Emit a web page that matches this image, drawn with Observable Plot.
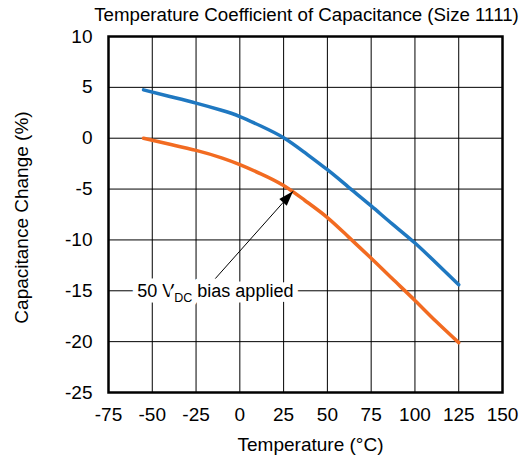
<!DOCTYPE html>
<html>
<head>
<meta charset="utf-8">
<script src="https://cdn.jsdelivr.net/npm/d3@7"></script>
<script src="https://cdn.jsdelivr.net/npm/@observablehq/plot@0.6"></script>
<style>
  html, body { margin: 0; padding: 0; background: white; }
</style>
</head>
<body>
<div id="chart"></div>
<script>
const title = "Temperature Coefficient of Capacitance (Size 1111)";
const xLabel = "Temperature (°C)";
const yLabel = "Capacitance Change (%)";
const xTicks = [-75, -50, -25, 0, 25, 50, 75, 100, 125, 150];
const yTicks = [-25, -20, -15, -10, -5, 0, 5, 10];

const temps   = [-55, -40, -25, -10, 0, 12, 25, 37, 50, 62, 75, 87, 100, 112, 125];
const noBias  = [4.75, 4.1, 3.45, 2.72, 2.13, 1.2, 0.05, -1.4, -3.1, -4.8, -6.65, -8.42, -10.3, -12.25, -14.4];
const bias50  = [0.0, -0.6, -1.2, -1.95, -2.6, -3.5, -4.65, -6.1, -7.8, -9.7, -11.8, -13.8, -15.95, -18.0, -20.1];

const annText = "50 VDC bias applied";
const annPos = {x: -14, y: -15};
const arrowFrom = {x: -14, y: -13.8};
const arrowTo = {x: 30.4, y: -5.22};

const rowsA = temps.map((t, i) => ({t, c: noBias[i]}));
const rowsB = temps.map((t, i) => ({t, c: bias50[i]}));

const arrowHead = {
  draw(ctx) {
    ctx.moveTo(0, 0);
    ctx.lineTo(-5, 15);
    ctx.lineTo(5, 15);
    ctx.closePath();
  }
};

const FS = 19;

const plot = Plot.plot({
  width: 523,
  height: 457,
  marginLeft: 108,
  marginRight: 21,
  marginTop: 36,
  marginBottom: 65,
  style: {fontFamily: "'Liberation Sans', Arial, sans-serif", fontSize: FS + "px", color: "black", background: "white", overflow: "visible"},
  x: {domain: [-75, 150]},
  y: {domain: [-25, 10]},
  marks: [
    Plot.gridX(xTicks, {stroke: "black", strokeOpacity: 1, strokeWidth: 1}),
    Plot.gridY(yTicks, {stroke: "black", strokeOpacity: 1, strokeWidth: 1}),
    Plot.axisX(xTicks, {tickSize: 0, tickPadding: 15, tickFormat: d => String(d), label: null, fontSize: FS}),
    Plot.axisY(yTicks, {tickSize: 0, tickPadding: 16, tickFormat: d => String(d), label: null, fontSize: FS}),
    Plot.frame({stroke: "black", strokeWidth: 2.5}),
    Plot.line(rowsA, {x: "t", y: "c", stroke: "#1f78c1", strokeWidth: 3.5, curve: "natural"}),
    Plot.line(rowsB, {x: "t", y: "c", stroke: "#f26b21", strokeWidth: 3.5, curve: "natural"}),
    Plot.text([annText], {x: annPos.x, y: annPos.y, text: d => d, fill: "black", stroke: "white", strokeWidth: 11, fontSize: 18, lineAnchor: "middle"}),
    Plot.link([0], {x1: arrowFrom.x, y1: arrowFrom.y, x2: arrowTo.x, y2: arrowTo.y, stroke: "black", strokeWidth: 1}),
    Plot.dot([0], {x: arrowTo.x, y: arrowTo.y, symbol: arrowHead, fill: "black", stroke: "none", rotate: 42}),
    Plot.text([title], {frameAnchor: "top", dy: -16, dx: 1, lineAnchor: "bottom", text: d => d, fill: "black", fontSize: 18.7}),
    Plot.text([xLabel], {frameAnchor: "bottom", dy: 58, dx: 5, lineAnchor: "bottom", text: d => d, fill: "black", fontSize: FS}),
    Plot.text([yLabel], {frameAnchor: "left", textAnchor: "middle", dx: -87, dy: 3, rotate: -90, lineAnchor: "middle", text: d => d, fill: "black", fontSize: FS})
  ]
});

// subscript for V_DC
plot.querySelectorAll("text").forEach(t => {
  if (t.textContent === annText) {
    const ns = "http://www.w3.org/2000/svg";
    t.textContent = "";
    const a = document.createElementNS(ns, "tspan"); a.textContent = "50 V";
    const b = document.createElementNS(ns, "tspan"); b.textContent = "DC"; b.setAttribute("font-size", "12.5"); b.setAttribute("dy", "5");
    const c = document.createElementNS(ns, "tspan"); c.textContent = " bias applied"; c.setAttribute("dy", "-5");
    t.append(a, b, c);
  }
});

document.getElementById("chart").append(plot);
</script>
</body>
</html>
